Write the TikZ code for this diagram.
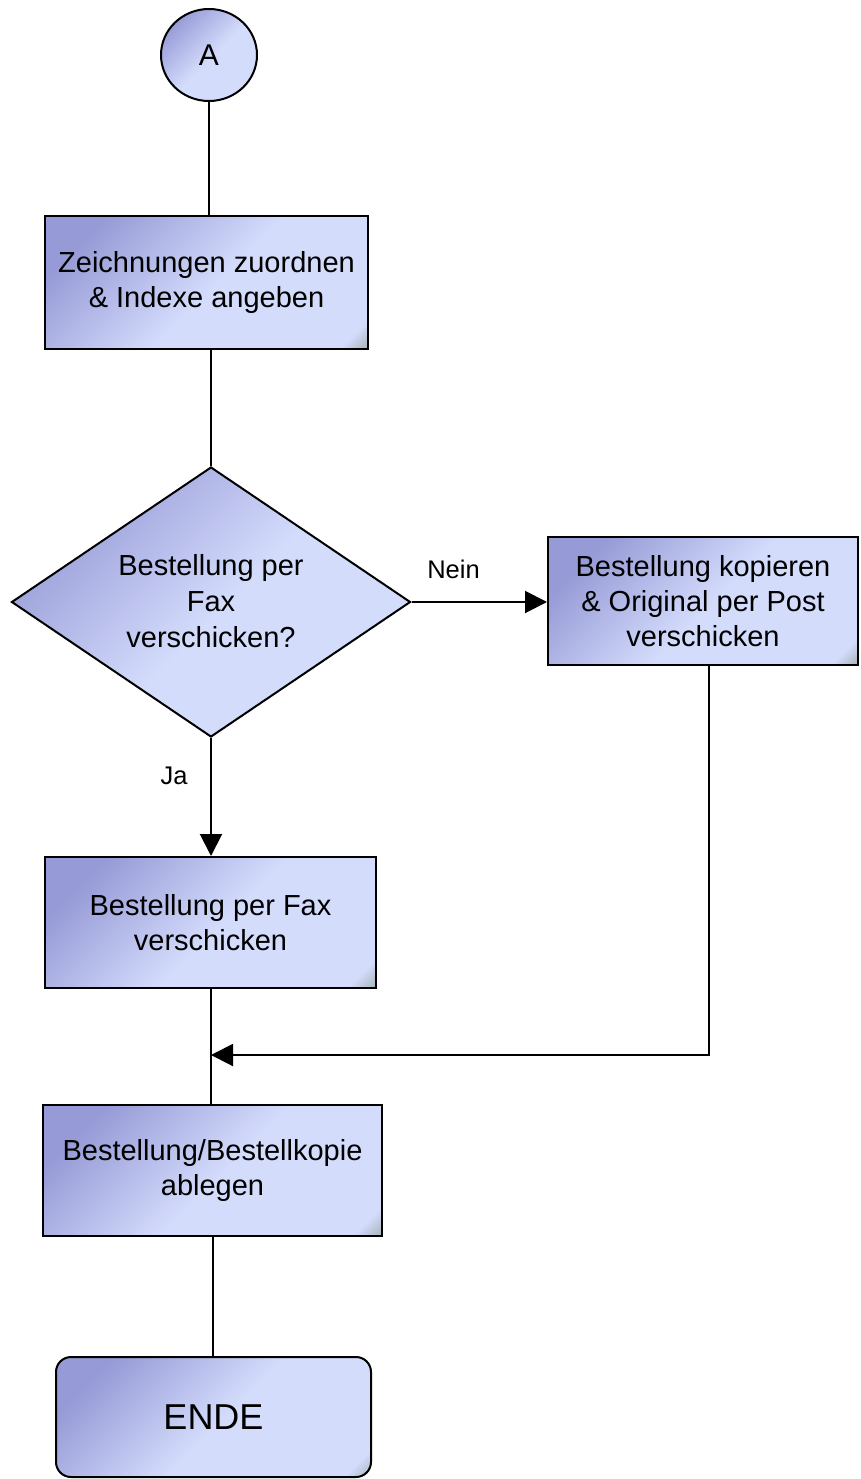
\documentclass[tikz,border=0pt]{standalone}
\usepackage{fontspec}
\setmainfont{Liberation Sans}
\usetikzlibrary{shapes.geometric,arrows.meta}
\definecolor{cdark}{RGB}{150,154,214}
\definecolor{clight}{RGB}{212,220,252}
\definecolor{cgreen}{RGB}{138,158,146}
\pgfdeclarehorizontalshading{flowshade}{100bp}{color(0bp)=(cdark); color(24bp)=(cdark); color(52bp)=(clight); color(81bp)=(clight); color(88bp)=(cgreen); color(100bp)=(cgreen)}
\begin{document}
\begin{tikzpicture}[x=1pt,y=-1pt,
  shape base/.style={draw=black, line width=2pt, shading=flowshade, shading angle=-45, inner sep=0pt},
  proc/.style={shape base, rectangle, align=center, font=\fontsize{29}{35}\selectfont},
  term/.style={proc, rounded corners=15pt, font=\fontsize{36}{40}\selectfont},
  conn/.style={shape base, ellipse, minimum width=96pt, minimum height=92pt, font=\fontsize{30}{32}\selectfont},
  dec/.style={shape base, diamond, minimum width=399pt, minimum height=270pt},
  txt/.style={align=center, inner sep=0pt, font=\fontsize{29}{36}\selectfont},
  lab/.style={inner sep=0pt, font=\fontsize{25.5}{28}\selectfont},
  line/.style={draw=black, line width=2pt},
  arr/.style={line, -{Triangle[length=22pt,width=22pt]}}
]
\useasboundingbox (0,0) rectangle (860,1479);
\node[conn] (c) at (209,55) {A};
\node[proc, minimum width=323pt, minimum height=133pt] (b1) at (206.5,282.5) {Zeichnungen zuordnen\\\& Indexe angeben};
\node[dec] (d) at (211,602) {};
\node[txt] (dt) at (211,601) {Bestellung per\\Fax\\verschicken?};
\node[proc, minimum width=310pt, minimum height=128pt] (b2) at (703,601) {Bestellung kopieren\\\& Original per Post\\verschicken};
\node[proc, minimum width=331pt, minimum height=131pt] (b3) at (210.5,922.5) {Bestellung per Fax\\verschicken};
\node[proc, minimum width=339pt, minimum height=131pt] (b4) at (212.5,1170.5) {Bestellung/Bestellkopie\\ablegen};
\node[term, minimum width=315pt, minimum height=120pt] (e) at (213.5,1417) {ENDE};
\coordinate (merge) at (211,1055);

\draw[line] (c.south) -- (c.south |- b1.north);
\draw[line] (d.north |- b1.south) -- (d.north);
\draw[arr] (d.east) -- (d.east -| b2.west) node[lab, pos=0.31, yshift=33pt] {Nein};
\draw[arr] (d.south) -- (d.south |- b3.north) node[lab, pos=0.32, xshift=-37pt] {Ja};
\draw[line] (b3.south -| merge) -- (b4.north -| merge);
\draw[arr] ([xshift=6pt]b2.south) |- (merge);
\draw[line] (b4.south) -- (b4.south |- e.north);
\end{tikzpicture}
\end{document}
